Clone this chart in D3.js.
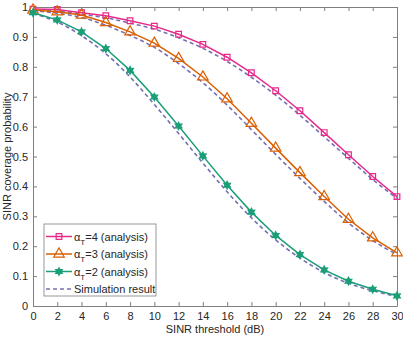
<!DOCTYPE html>
<html lang="en">
<head>
<meta charset="UTF-8">
<title>SINR coverage probability</title>
<style>
  body { margin: 0; background: #fff; }
  svg text { font-family: "Liberation Sans", Arial, sans-serif; fill: #262626; }
  .axis path, .axis line { stroke: #7f7f7f; }
</style>
</head>
<body>
<div id="chart"></div>
<script src="https://d3js.org/d3.v7.min.js"></script>
<script>
// data
const thresholds = [0, 2, 4, 6, 8, 10, 12, 14, 16, 18, 20, 22, 24, 26, 28, 30];
const alpha4 = [0.993, 0.992, 0.981, 0.971, 0.954, 0.936, 0.909, 0.875, 0.832, 0.780, 0.720, 0.653, 0.580, 0.506, 0.433, 0.366];
const alpha3 = [0.990, 0.984, 0.973, 0.948, 0.917, 0.879, 0.828, 0.766, 0.693, 0.611, 0.528, 0.446, 0.366, 0.290, 0.228, 0.178];
const alpha2 = [0.981, 0.957, 0.917, 0.861, 0.788, 0.699, 0.602, 0.502, 0.404, 0.314, 0.236, 0.172, 0.121, 0.083, 0.056, 0.034];
const sim4 = [0.990, 0.986, 0.976, 0.964, 0.946, 0.926, 0.897, 0.862, 0.818, 0.765, 0.705, 0.638, 0.566, 0.494, 0.423, 0.360];
const sim3 = [0.988, 0.979, 0.965, 0.939, 0.905, 0.865, 0.811, 0.747, 0.672, 0.590, 0.507, 0.427, 0.350, 0.278, 0.219, 0.172];
const sim2 = [0.978, 0.950, 0.904, 0.844, 0.766, 0.674, 0.577, 0.478, 0.382, 0.295, 0.221, 0.160, 0.112, 0.076, 0.051, 0.032];
const xTicks = d3.range(0, 31, 2);
const yTicks = d3.range(0, 1.01, 0.1);
const legendLabels = ["4", "3", "2"];

const width = 403, height = 337;
const margin = { top: 7, right: 6, bottom: 31, left: 33 };
const svg = d3.select("#chart").append("svg").attr("width", width).attr("height", height);

const x = d3.scaleLinear().domain([0, 30]).range([margin.left, width - margin.right]);
const y = d3.scaleLinear().domain([0, 1]).range([height - margin.bottom, margin.top]);

// six-pointed star like matlab's 'h' marker
const hexagram = {
  draw(ctx, size) {
    const r = Math.sqrt(size) * 0.75, ri = r * 0.55;
    for (let k = 0; k < 12; k++) {
      const a = -Math.PI / 2 + k * Math.PI / 6, rr = k % 2 ? ri : r;
      if (k === 0) ctx.moveTo(rr * Math.cos(a), rr * Math.sin(a));
      else ctx.lineTo(rr * Math.cos(a), rr * Math.sin(a));
    }
    ctx.closePath();
  }
};

// axes, ticks pointing inward
svg.append("g").attr("class", "axis")
  .attr("transform", "translate(0," + y(0) + ")")
  .call(d3.axisBottom(x).tickValues(xTicks).tickSizeInner(-4).tickSizeOuter(0).tickPadding(6))
  .call(g => g.selectAll("text").attr("font-size", 11));
svg.append("g").attr("class", "axis")
  .attr("transform", "translate(" + x(0) + ",0)")
  .call(d3.axisLeft(y).tickValues(yTicks).tickFormat(d => d3.format(".1~f")(d)).tickSizeInner(-4).tickSizeOuter(0).tickPadding(5))
  .call(g => g.selectAll("text").attr("font-size", 11));
svg.append("g").attr("class", "axis")
  .attr("transform", "translate(0," + y(1) + ")")
  .call(d3.axisTop(x).tickValues(xTicks).tickSizeInner(-4).tickSizeOuter(0).tickFormat(""));
svg.append("g").attr("class", "axis")
  .attr("transform", "translate(" + x(30) + ",0)")
  .call(d3.axisRight(y).tickValues(yTicks).tickSizeInner(-4).tickSizeOuter(0).tickFormat(""));

svg.append("text").attr("x", (x(0) + x(30)) / 2).attr("y", 333)
  .attr("text-anchor", "middle").attr("font-size", 11).text("SINR threshold (dB)");
svg.append("text").attr("transform", "translate(11," + (y(0) + y(1)) / 2 + ") rotate(-90)")
  .attr("text-anchor", "middle").attr("font-size", 11).text("SINR coverage probability");

const series = [
  { vals: alpha4, sim: sim4, color: "#e7298a", sym: d3.symbolSquare, size: 32, fill: "none" },
  { vals: alpha3, sim: sim3, color: "#d95f02", sym: d3.symbolTriangle, size: 48, fill: "none" },
  { vals: alpha2, sim: sim2, color: "#1b9e77", sym: hexagram, size: 26, fill: "#1b9e77" }
];
const line = d3.line().x((d, i) => x(thresholds[i])).y(d => y(d)).curve(d3.curveMonotoneX);

series.forEach(s => {
  svg.append("path").datum(s.sim).attr("d", line).attr("fill", "none")
    .attr("stroke", "#7570b3").attr("stroke-width", 1.6).attr("stroke-dasharray", "4,3");
});
series.forEach(s => {
  svg.append("path").datum(s.vals).attr("d", d3.line().x((d, i) => x(thresholds[i])).y(d => y(d)))
    .attr("fill", "none").attr("stroke", s.color).attr("stroke-width", 1.5);
  svg.selectAll(null).data(s.vals).enter().append("path")
    .attr("transform", (d, i) => "translate(" + x(thresholds[i]) + "," + y(d) + ")")
    .attr("d", d3.symbol().type(s.sym).size(s.size))
    .attr("fill", s.fill).attr("stroke", s.color).attr("stroke-width", 1.2);
});

// legend
const lg = svg.append("g").attr("transform", "translate(44,224)");
lg.append("rect").attr("width", 112).attr("height", 72).attr("fill", "#fff").attr("stroke", "#7f7f7f").attr("stroke-width", 0.8);
series.forEach((s, i) => {
  const yy = 12.5 + i * 17.5;
  lg.append("line").attr("x1", 2).attr("x2", 28).attr("y1", yy).attr("y2", yy)
    .attr("stroke", s.color).attr("stroke-width", 1.5);
  lg.append("path").attr("transform", "translate(15," + yy + ")")
    .attr("d", d3.symbol().type(s.sym).size(s.size))
    .attr("fill", s.fill).attr("stroke", s.color).attr("stroke-width", 1.2);
  const t = lg.append("text").attr("x", 30).attr("y", yy + 4).attr("font-size", 11);
  t.append("tspan").text("\u03b1");
  t.append("tspan").attr("font-size", 8).attr("dy", 4).text("T");
  t.append("tspan").attr("dy", -4).text("=" + legendLabels[i] + " (analysis)");
});
const ys = 12.5 + 3 * 17.5;
lg.append("line").attr("x1", 2).attr("x2", 28).attr("y1", ys).attr("y2", ys)
  .attr("stroke", "#7570b3").attr("stroke-width", 1.6).attr("stroke-dasharray", "4,3");
lg.append("text").attr("x", 30).attr("y", ys + 4).attr("font-size", 11).text("Simulation result");
</script>
</body>
</html>
